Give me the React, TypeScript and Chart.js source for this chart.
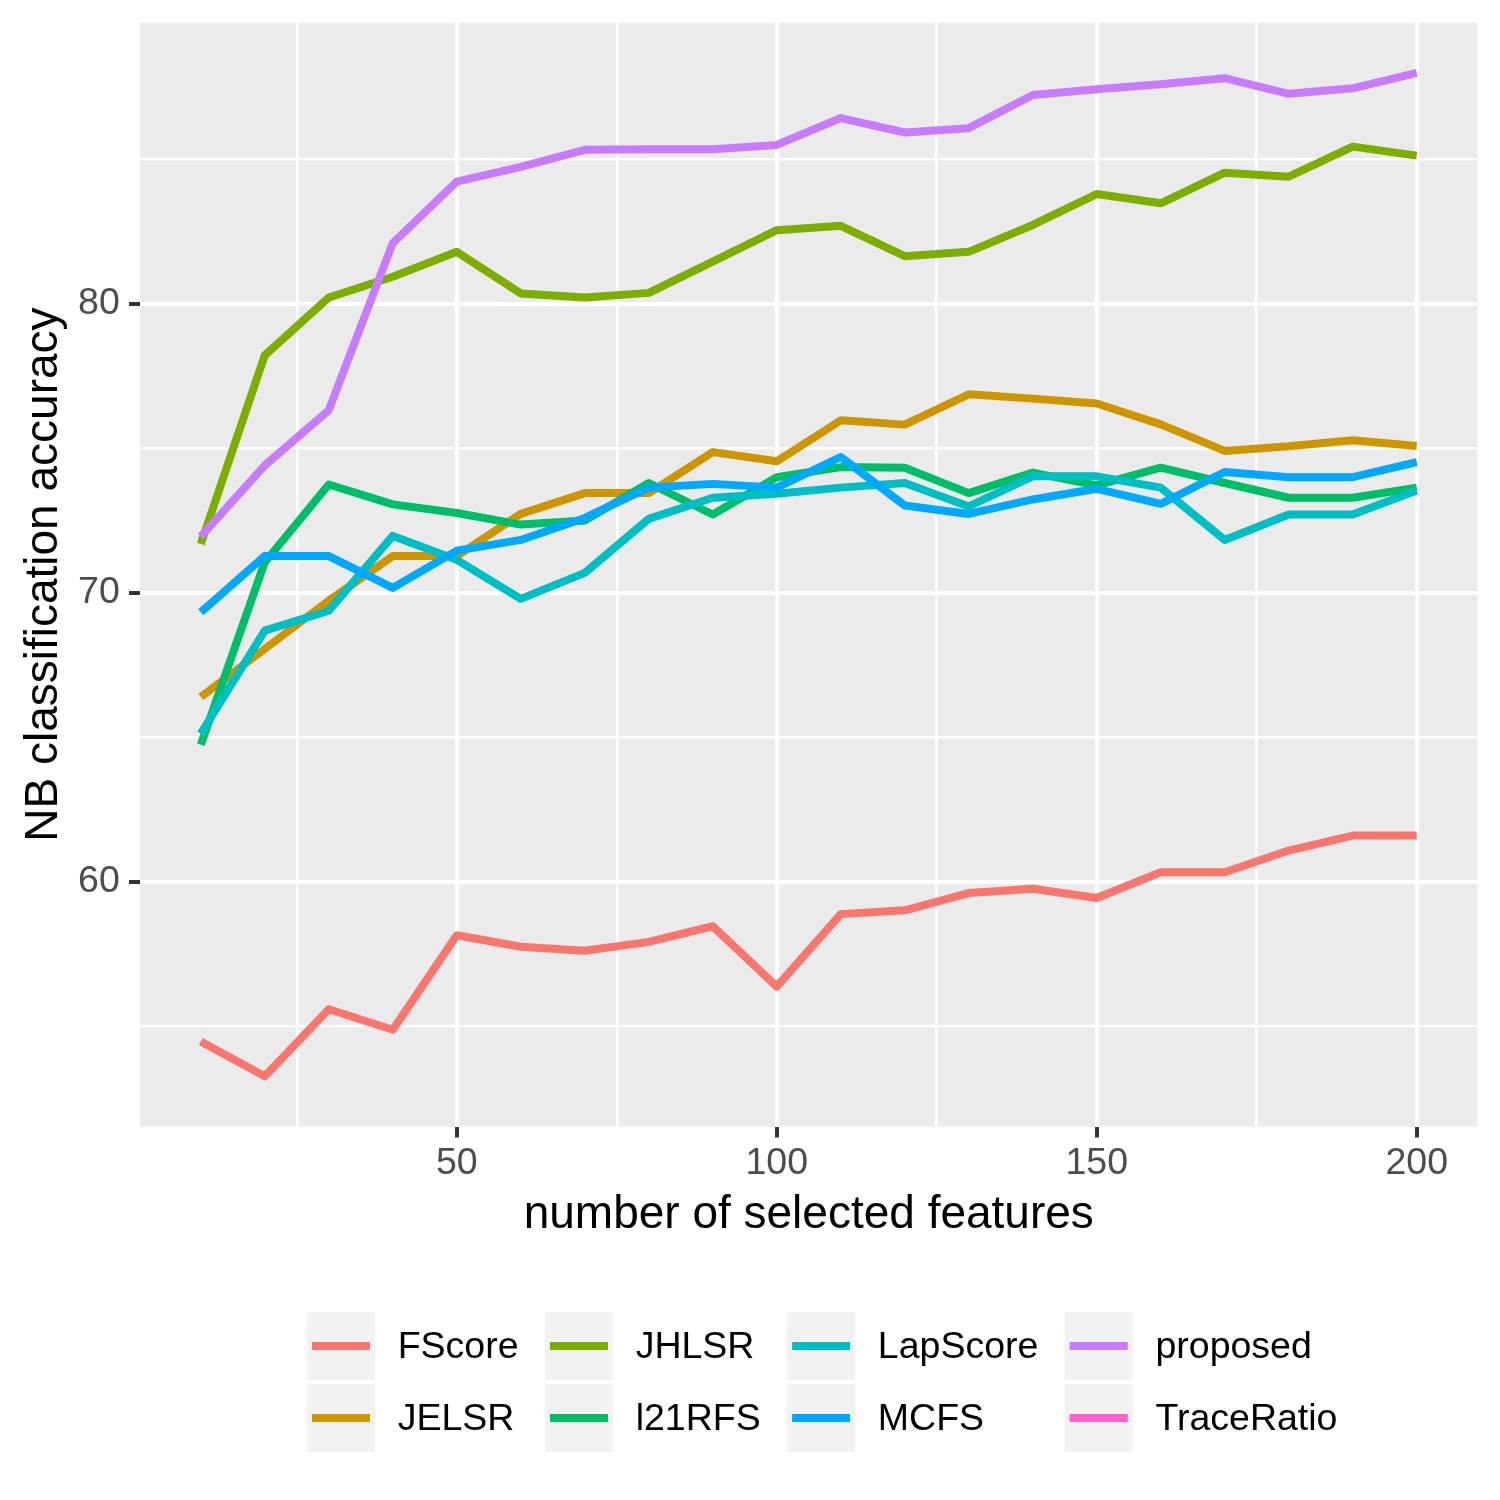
import { useEffect, useRef } from "react";
import { Chart, registerables } from "chart.js";

Chart.register(...registerables);

const FONT = '"Liberation Sans", Arial, Helvetica, sans-serif';

// number of selected features
const features = [10, 20, 30, 40, 50, 60, 70, 80, 90, 100, 110, 120, 130, 140, 150, 160, 170, 180, 190, 200];

const seriesNames = ["FScore", "JELSR", "JHLSR", "l21RFS", "LapScore", "MCFS", "proposed", "TraceRatio"];
const seriesColors = ["#F8766D", "#CD9600", "#7CAE00", "#00BE67", "#00BFC4", "#00A9FF", "#C77CFF", "#FF61CC"];

const fscore = [54.48, 53.28, 55.6, 54.89, 58.16, 57.76, 57.62, 57.93, 58.47, 56.38, 58.89, 59.02, 59.62, 59.77, 59.45, 60.34, 60.34, 61.09, 61.61, 61.61];
const jelsr = [66.41, 68.07, 69.74, 71.28, 71.28, 72.74, 73.46, 73.46, 74.88, 74.56, 75.98, 75.83, 76.88, 76.73, 76.56, 75.84, 74.92, 75.08, 75.29, 75.09];
const jhlsr = [71.7, 78.23, 80.23, 80.95, 81.81, 80.37, 80.23, 80.39, 81.47, 82.56, 82.71, 81.66, 81.81, 82.74, 83.81, 83.49, 84.55, 84.41, 85.45, 85.14];
const l21rfs = [64.75, 71.07, 73.76, 73.07, 72.77, 72.37, 72.51, 73.81, 72.72, 74.01, 74.36, 74.34, 73.46, 74.17, 73.73, 74.34, 73.81, 73.3, 73.3, 73.65];
const lapScore = [65.14, 68.7, 69.39, 71.98, 71.15, 69.8, 70.7, 72.57, 73.3, 73.44, 73.65, 73.81, 73.0, 74.04, 74.04, 73.65, 71.84, 72.72, 72.72, 73.55];
const mcfs = [69.34, 71.28, 71.28, 70.18, 71.47, 71.84, 72.6, 73.65, 73.78, 73.65, 74.71, 73.03, 72.74, 73.24, 73.61, 73.09, 74.19, 74.01, 74.01, 74.53];
const proposed = [71.96, 74.42, 76.33, 82.11, 84.24, 84.75, 85.34, 85.36, 85.36, 85.51, 86.44, 85.94, 86.09, 87.24, 87.44, 87.61, 87.82, 87.28, 87.47, 88.0];
const traceRatio: number[] = [];

const seriesValues = [fscore, jelsr, jhlsr, l21rfs, lapScore, mcfs, proposed, traceRatio];

const xTicks = [25, 50, 75, 100, 125, 150, 175, 200];
const xLabels = [50, 100, 150, 200];
const yTicks = [55, 60, 65, 70, 75, 80, 85];
const yLabels = [60, 70, 80];
const xLimits = [0.5, 209.5];
const yLimits = [51.54, 89.74];

// grey panel behind the grid
const panelPlugin = {
  id: "panel",
  beforeDraw(chart: any) {
    const { ctx, chartArea } = chart;
    ctx.save();
    ctx.fillStyle = "#FFFFFF";
    ctx.fillRect(0, 0, chart.width, chart.height);
    ctx.fillStyle = "#EBEBEB";
    ctx.fillRect(chartArea.left, chartArea.top, chartArea.right - chartArea.left, chartArea.bottom - chartArea.top);
    ctx.restore();
  },
};

// ggplot style legend, 2 rows, filled column by column
const legendPlugin = {
  id: "ggLegend",
  afterDraw(chart: any) {
    const ctx = chart.ctx;
    const key = 68;
    const rowTops = [1312, 1384];
    ctx.save();
    ctx.font = `37.5px ${FONT}`;
    ctx.textBaseline = "middle";
    ctx.textAlign = "left";
    let x = 307;
    for (let c = 0; c < 4; c++) {
      let maxW = 0;
      for (let r = 0; r < 2; r++) {
        const i = c * 2 + r;
        const y = rowTops[r];
        ctx.fillStyle = "#F2F2F2";
        ctx.fillRect(x, y, key, key);
        ctx.strokeStyle = seriesColors[i];
        ctx.lineWidth = 8;
        ctx.lineCap = "butt";
        ctx.beginPath();
        ctx.moveTo(x + 5, y + key / 2);
        ctx.lineTo(x + key - 5, y + key / 2);
        ctx.stroke();
        ctx.fillStyle = "#000000";
        ctx.fillText(seriesNames[i], x + key + 22.7, y + key / 2 + 1.5);
        maxW = Math.max(maxW, ctx.measureText(seriesNames[i]).width);
      }
      x += key + 22.7 + maxW + 26.4;
    }
    ctx.restore();
  },
};

export default function App() {
  const canvasRef = useRef<HTMLCanvasElement>(null);

  useEffect(() => {
    if (!canvasRef.current) return;
    const ctx = canvasRef.current.getContext("2d");
    if (!ctx) return;

    const datasets = seriesNames.map((name, i) => ({
      label: name,
      data: seriesValues[i].map((y, j) => ({ x: features[j], y })),
      borderColor: seriesColors[i],
      backgroundColor: seriesColors[i],
      borderWidth: 8,
      pointRadius: 0,
      tension: 0,
      borderJoinStyle: "round" as const,
      borderCapStyle: "butt" as const,
      fill: false,
      order: seriesNames.length - i,
    }));

    const chart = new Chart(ctx, {
      type: "line",
      data: { datasets },
      plugins: [panelPlugin, legendPlugin],
      options: {
        responsive: false,
        animation: false,
        devicePixelRatio: 1,
        events: [],
        layout: { padding: { top: 22.7, right: 22.5, bottom: 253.5, left: 0 } },
        plugins: {
          legend: { display: false },
          tooltip: { enabled: false },
        },
        scales: {
          x: {
            type: "linear",
            min: xLimits[0],
            max: xLimits[1],
            afterBuildTicks: (scale: any) => {
              scale.ticks = xTicks.map((v) => ({ value: v }));
            },
            afterFit: (scale: any) => {
              scale.height = 120;
              scale.paddingLeft = 0;
              scale.paddingRight = 0;
            },
            border: { display: false },
            grid: {
              color: "#FFFFFF",
              lineWidth: (c: any) => (xLabels.includes(c.tick?.value) ? 4 : 2.5),
              tickColor: (c: any) => (xLabels.includes(c.tick?.value) ? "#333333" : "rgba(0,0,0,0)"),
              tickLength: 11,
              tickWidth: 4,
            },
            ticks: {
              autoSkip: false,
              maxRotation: 0,
              padding: 3.5,
              color: "#4D4D4D",
              font: { family: FONT, size: 37.5 },
              callback: (v: any) => (xLabels.includes(v) ? String(v) : ""),
            },
            title: {
              display: true,
              text: "number of selected features",
              color: "#000000",
              font: { family: FONT, size: 46 },
              padding: { top: 0, bottom: 3.9 },
            },
          },
          y: {
            type: "linear",
            min: yLimits[0],
            max: yLimits[1],
            afterBuildTicks: (scale: any) => {
              scale.ticks = yTicks.map((v) => ({ value: v }));
            },
            afterFit: (scale: any) => {
              scale.width = 140;
              scale.paddingTop = 0;
              scale.paddingBottom = 0;
            },
            border: { display: false },
            grid: {
              color: "#FFFFFF",
              lineWidth: (c: any) => (yLabels.includes(c.tick?.value) ? 4 : 2.5),
              tickColor: (c: any) => (yLabels.includes(c.tick?.value) ? "#333333" : "rgba(0,0,0,0)"),
              tickLength: 11,
              tickWidth: 4,
            },
            ticks: {
              autoSkip: false,
              padding: 9.2,
              color: "#4D4D4D",
              font: { family: FONT, size: 37.5 },
              callback: (v: any) => (yLabels.includes(v) ? String(v) : ""),
            },
            title: {
              display: true,
              text: "NB classification accuracy",
              color: "#000000",
              font: { family: FONT, size: 46 },
              padding: { top: 16.4, bottom: 0 },
            },
          },
        },
      },
    });

    return () => chart.destroy();
  }, []);

  return (
    <div style={{ position: "absolute", left: 0, top: 0, width: 1500, height: 1500, background: "#fff" }}>
      <canvas ref={canvasRef} width={1500} height={1500} style={{ display: "block" }} />
    </div>
  );
}
